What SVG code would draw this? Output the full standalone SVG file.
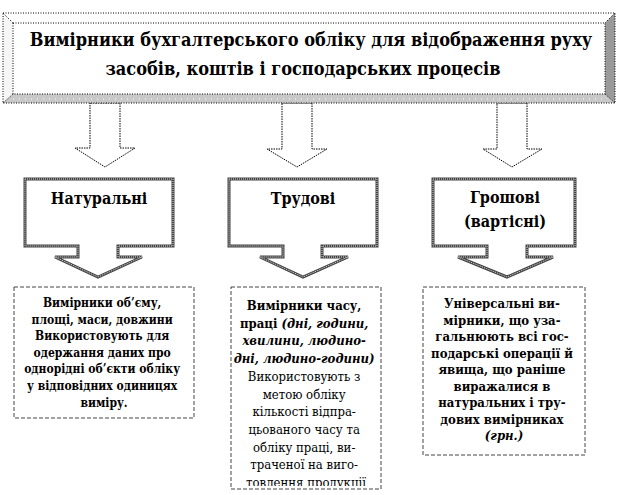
<svg xmlns="http://www.w3.org/2000/svg" width="618" height="495" viewBox="0 0 618 495">
<style>
  .dot { fill: none; stroke: #000; stroke-width: 1; stroke-dasharray: 1 1.5; }
  .arrow { fill: #fff; stroke: #000; stroke-width: 1; stroke-dasharray: 1.5 1; }
  .call-out { fill: #fff; stroke: #444; stroke-width: 3; stroke-linejoin: miter; }
  .call-in { fill: none; stroke: #e0e0e0; stroke-width: 1; stroke-dasharray: 1 1; }
  .dash { fill: #fff; stroke: #444; stroke-width: 1; stroke-dasharray: 4 2; }
  text { font-family: "DejaVu Serif", "Liberation Serif", serif; font-stretch: condensed; fill: #000; text-anchor: middle; }
  .title { font-size: 18px; font-weight: bold; }
  .head { font-size: 16px; font-weight: bold; }
  .b1 { font-size: 12px; font-weight: bold; }
  .b2 { font-size: 13px; }
  .b3 { font-size: 13px; font-weight: bold; }
  .sb { font-weight: bold; }
</style>
<defs>
  <clipPath id="clip2"><rect x="231" y="287" width="150" height="199"/></clipPath>
</defs>
<rect width="618" height="495" fill="#fff"/>

<g id="connectors">
  <polygon class="arrow" points="90,103 120,103 120,148 135,148 105,167 75,148 90,148"/>
  <polygon class="arrow" points="282,103 312,103 312,149 327,149 297,167 267,149 282,149"/>
  <polygon class="arrow" points="497,103 527,103 527,149 542,149 512,167 483,149 497,149"/>
</g>

<g id="title">
  <polygon points="3,13 615,13 605,23 13,23" fill="#fff"/>
  <polygon points="3,13 13,23 13,94 3,103" fill="#f6f6f6"/>
  <polygon points="3,103 13,94 605,94 615,103" fill="#c8c8c8"/>
  <polygon points="615,13 605,23 605,94 615,103" fill="#9a9a9a"/>
  <rect x="13" y="23" width="592" height="71" fill="#fff"/>
  <line x1="13" y1="99" x2="605" y2="99" stroke="#fff" stroke-width="1" stroke-dasharray="1 5"/>
  <rect class="dot" x="3" y="13" width="612" height="90"/>
  <rect class="dot" x="13" y="23" width="592" height="71"/>
  <line class="dot" x1="3" y1="13" x2="13" y2="23"/>
  <line class="dot" x1="615" y1="13" x2="605" y2="23"/>
  <line class="dot" x1="3" y1="103" x2="13" y2="94"/>
  <line class="dot" x1="615" y1="103" x2="605" y2="94"/>
  <text class="title" x="311" y="46">Вимірники бухгалтерського обліку для відображення руху</text>
  <text class="title" x="303" y="75">засобів, коштів  і господарських процесів</text>
</g>

<g id="natural">
  <path class="call-out" d="M25,179 H173 V246 H118 V257 H142 L98,277 L55,257 H78 V246 H25 Z"/>
  <path class="call-in" d="M25,179 H173 V246 H118 V257 H142 L98,277 L55,257 H78 V246 H25 Z"/>
  <text class="head" x="99" y="204">Натуральні</text>
</g>

<g id="labour">
  <path class="call-out" d="M229,179 H377 V246 H322 V257 H348 L303,277 L260,257 H283 V246 H229 Z"/>
  <path class="call-in" d="M229,179 H377 V246 H322 V257 H348 L303,277 L260,257 H283 V246 H229 Z"/>
  <text class="head" x="303" y="204">Трудові</text>
</g>

<g id="money">
  <path class="call-out" d="M433,179 H575 V246 H527 V257 H553 L507,277 L458,257 H487 V246 H433 Z"/>
  <path class="call-in" d="M433,179 H575 V246 H527 V257 H553 L507,277 L458,257 H487 V246 H433 Z"/>
  <text class="head" x="505" y="203">Грошові</text>
  <text class="head" x="505" y="227">(вартісні)</text>
</g>

<g id="natural-desc">
  <rect class="dash" x="14" y="287" width="180" height="131"/>
  <text class="b1">
    <tspan x="104" y="307">Вимірники об’єму,</tspan>
    <tspan x="104" y="323.6">площі, маси, довжини</tspan>
    <tspan x="104" y="340.2">Використовують для</tspan>
    <tspan x="104" y="356.8">одержання даних про</tspan>
    <tspan x="104" y="373.4">однорідні  об’єкти обліку</tspan>
    <tspan x="104" y="390">у відповідних  одиницях</tspan>
    <tspan x="104" y="406.6">виміру.</tspan>
  </text>
</g>

<g id="labour-desc">
  <rect class="dash" x="231" y="287" width="150" height="202"/>
  <text class="b2" clip-path="url(#clip2)">
    <tspan x="306" y="310" class="sb">Вимірники часу,</tspan>
    <tspan x="306" y="327.7" class="sb">праці <tspan font-style="italic">(дні, години,</tspan></tspan>
    <tspan x="306" y="345.4" class="sb" font-style="italic">хвилини, людино-</tspan>
    <tspan x="306" y="363.1" class="sb" font-style="italic">дні, людино-години)</tspan>
    <tspan x="306" y="380.8">Використовують з</tspan>
    <tspan x="306" y="398.5">метою обліку</tspan>
    <tspan x="306" y="416.2">кількості відпра-</tspan>
    <tspan x="306" y="433.9">цьованого  часу та</tspan>
    <tspan x="306" y="451.6">обліку праці,  ви-</tspan>
    <tspan x="306" y="469.3">траченої на виго-</tspan>
    <tspan x="306" y="487">товлення продукції</tspan>
  </text>
</g>

<g id="money-desc">
  <rect class="dash" x="423" y="287" width="162" height="168"/>
  <text class="b3">
    <tspan x="504" y="308">Універсальні ви-</tspan>
    <tspan x="504" y="324.5">мірники, що уза-</tspan>
    <tspan x="504" y="341">гальнюють всі гос-</tspan>
    <tspan x="504" y="357.5">подарські операції й</tspan>
    <tspan x="504" y="374">явища, що раніше</tspan>
    <tspan x="504" y="390.5">виражалися в</tspan>
    <tspan x="504" y="407">натуральних  і тру-</tspan>
    <tspan x="504" y="423.5">дових вимірниках</tspan>
    <tspan x="504" y="440" font-style="italic">(грн.)</tspan>
  </text>
</g>
</svg>
